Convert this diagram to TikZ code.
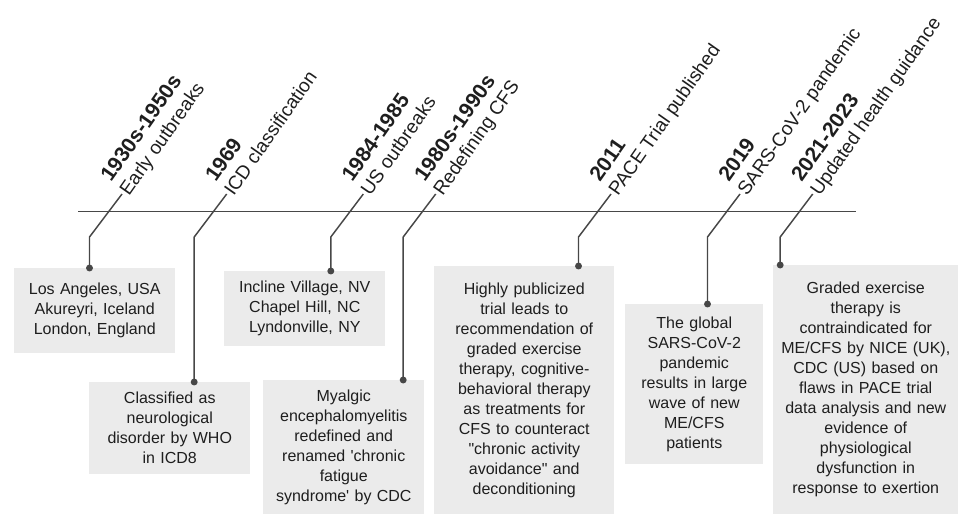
\documentclass[tikz,border=0pt]{standalone}
\usepackage{fontspec}
\setmainfont{Liberation Sans}
\usetikzlibrary{calc}

\definecolor{linegray}{HTML}{474747}
\definecolor{boxgray}{HTML}{EBEBEB}
\definecolor{inkgray}{HTML}{1E1E1E}

\tikzset{
    yearlab/.style={rotate=55, anchor=base west, inner sep=0pt, text=inkgray,
        font=\fontsize{15.8}{18}\selectfont\bfseries},
    whatlab/.style={rotate=55, anchor=base west, inner sep=0pt, text=inkgray,
        font=\fontsize{14.3}{18}\selectfont},
    infobox/.style={fill=boxgray, anchor=north west, inner sep=0pt, align=center,
        text=inkgray, font=\fontsize{12}{15}\selectfont},
    boxsize/.style 2 args={minimum width=#1, text width=#1, minimum height=#2},
    link/.style={linegray, line width=1.1pt, line join=round},
}

\begin{document}
\begin{tikzpicture}[x=0.75pt, y=-0.75pt]
    \useasboundingbox (0,0) rectangle (960,515);
    % timeline
    \coordinate (start) at (78,211.5);
    \coordinate (end) at (856,211.5);
    \draw[linegray, line width=1pt] (start) -- (end);
    % tops and bends of the connectors
    \coordinate (t1) at (122,194);   \coordinate (k1) at (89.5,237);
    \coordinate (t2) at (226.7,194); \coordinate (k2) at (194.2,237);
    \coordinate (t3) at (363.3,194); \coordinate (k3) at (330.8,237);
    \coordinate (t4) at (435.7,194); \coordinate (k4) at (403.2,237);
    \coordinate (t5) at (611,194);   \coordinate (k5) at (578.5,237);
    \coordinate (t6) at (740,194);   \coordinate (k6) at (707.5,237);
    \coordinate (t7) at (812.7,194); \coordinate (k7) at (780.2,237);
    % 1930s-1950s: early outbreaks
    \node[yearlab] (y1) at ($(t1)+(-11,-11)$) {1930s-1950s};
    \node[whatlab] (w1) at ($(t1)+(7,3)$) {Early outbreaks};
    \node[infobox, boxsize={120.75pt}{63.75pt}] (box1) at (14,268)
        {Los Angeles, USA\\Akureyri, Iceland\\London, England};
    % 1969: ICD classification
    \node[yearlab] (y2) at ($(t2)+(-11,-11)$) {1969};
    \node[whatlab] (w2) at ($(t2)+(7,3)$) {ICD classification};
    \node[infobox, boxsize={120.75pt}{69pt}] (box2) at (89,382)
        {Classified as\\neurological\\disorder by WHO\\in ICD8};
    % 1984-1985: US outbreaks
    \node[yearlab] (y3) at ($(t3)+(-11,-11)$) {1984-1985};
    \node[whatlab] (w3) at ($(t3)+(7,3)$) {US outbreaks};
    \node[infobox, boxsize={120.75pt}{56.25pt}] (box3) at (224,271)
        {Incline Village, NV\\Chapel Hill, NC\\Lyndonville, NY};
    % 1980s-1990s: redefining CFS
    \node[yearlab] (y4) at ($(t4)+(-11,-11)$) {1980s-1990s};
    \node[whatlab] (w4) at ($(t4)+(7,3)$) {Redefining CFS};
    \node[infobox, boxsize={120.75pt}{100.5pt}] (box4) at (263,380)
        {Myalgic\\encephalomyelitis\\redefined and\\renamed \textquotesingle chronic\\fatigue\\syndrome\textquotesingle\ by CDC};
    % 2011: PACE trial
    \node[yearlab] (y5) at ($(t5)+(-11,-11)$) {2011};
    \node[whatlab] (w5) at ($(t5)+(7,3)$) {PACE Trial published};
    \node[infobox, boxsize={135pt}{186pt}] (box5) at (434,266)
        {Highly publicized\\trial leads to\\recommendation of\\graded exercise\\therapy, cognitive-\\behavioral therapy\\as treatments for\\CFS to counteract\\\textquotedbl chronic activity\\avoidance\textquotedbl\ and\\deconditioning};
    % 2019: SARS-CoV-2
    \node[yearlab] (y6) at ($(t6)+(-11,-11)$) {2019};
    \node[whatlab] (w6) at ($(t6)+(7,3)$) {SARS-CoV-2 pandemic};
    \node[infobox, boxsize={103.5pt}{120pt}] (box6) at (625,304)
        {The global\\SARS-CoV-2\\pandemic\\results in large\\wave of new\\ME/CFS\\patients};
    % 2021-2023: updated guidance
    \node[yearlab] (y7) at ($(t7)+(-11,-11)$) {2021-2023};
    \node[whatlab] (w7) at ($(t7)+(7,3)$) {Updated health guidance};
    \node[infobox, boxsize={138.75pt}{186.75pt}] (box7) at (773,265)
        {Graded exercise\\therapy is\\contraindicated for\\ME/CFS by NICE (UK),\\CDC (US) based on\\flaws in PACE trial\\data analysis and new\\evidence of\\physiological\\dysfunction in\\response to exertion};
    % connectors with end dots
    \draw[link] (t1) -- (k1) -- (k1 |- box1.north); \fill[linegray] (k1 |- box1.north) circle (2.6pt);
    \draw[link] (t2) -- (k2) -- (k2 |- box2.north); \fill[linegray] (k2 |- box2.north) circle (2.6pt);
    \draw[link] (t3) -- (k3) -- (k3 |- box3.north); \fill[linegray] (k3 |- box3.north) circle (2.6pt);
    \draw[link] (t4) -- (k4) -- (k4 |- box4.north); \fill[linegray] (k4 |- box4.north) circle (2.6pt);
    \draw[link] (t5) -- (k5) -- (k5 |- box5.north); \fill[linegray] (k5 |- box5.north) circle (2.6pt);
    \draw[link] (t6) -- (k6) -- (k6 |- box6.north); \fill[linegray] (k6 |- box6.north) circle (2.6pt);
    \draw[link] (t7) -- (k7) -- (k7 |- box7.north); \fill[linegray] (k7 |- box7.north) circle (2.6pt);
\end{tikzpicture}
\end{document}
